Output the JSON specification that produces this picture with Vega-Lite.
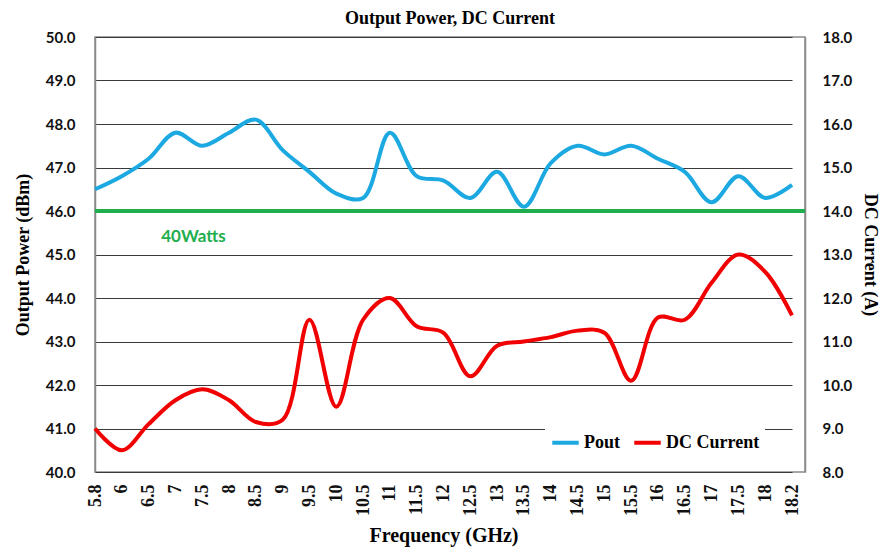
{
  "$schema": "https://vega.github.io/schema/vega-lite/v6.json",
  "autosize": {"type": "none"},
  "padding": {"left": 95, "top": 37, "right": 79, "bottom": 75},
  "width": 710,
  "height": 435,
  "background": "white",
  "title": {"text": "Output Power, DC Current", "font": "Liberation Serif", "fontSize": 18, "fontWeight": "bold", "color": "#000", "anchor": "middle", "offset": 2},
  "config": {
    "view": {"stroke": "#8a8a8a", "strokeWidth": 1.5},
    "axis": {"labelFont": "Lato", "labelFontWeight": "bold", "labelFontSize": 15, "labelColor": "#111", "titleFont": "Liberation Serif", "titleFontWeight": "bold", "titleFontSize": 20, "titleColor": "#000", "ticks": false}
  },
  "data": {"values": [
    {"freq": "5.8", "pout": 46.5, "dc": 9.0},
    {"freq": "6", "pout": 46.8, "dc": 8.5},
    {"freq": "6.5", "pout": 47.2, "dc": 9.1},
    {"freq": "7", "pout": 47.8, "dc": 9.65},
    {"freq": "7.5", "pout": 47.5, "dc": 9.9},
    {"freq": "8", "pout": 47.8, "dc": 9.65},
    {"freq": "8.5", "pout": 48.1, "dc": 9.15},
    {"freq": "9", "pout": 47.4, "dc": 9.2},
    {"freq": "9.5", "pout": 46.9, "dc": 11.5},
    {"freq": "10", "pout": 46.4, "dc": 9.5},
    {"freq": "10.5", "pout": 46.3, "dc": 11.5},
    {"freq": "11", "pout": 47.8, "dc": 12.0},
    {"freq": "11.5", "pout": 46.8, "dc": 11.35},
    {"freq": "12", "pout": 46.7, "dc": 11.2},
    {"freq": "12.5", "pout": 46.3, "dc": 10.2},
    {"freq": "13", "pout": 46.9, "dc": 10.9},
    {"freq": "13.5", "pout": 46.1, "dc": 11.0},
    {"freq": "14", "pout": 47.1, "dc": 11.1},
    {"freq": "14.5", "pout": 47.5, "dc": 11.25},
    {"freq": "15", "pout": 47.3, "dc": 11.2},
    {"freq": "15.5", "pout": 47.5, "dc": 10.1},
    {"freq": "16", "pout": 47.2, "dc": 11.55},
    {"freq": "16.5", "pout": 46.9, "dc": 11.5},
    {"freq": "17", "pout": 46.2, "dc": 12.35},
    {"freq": "17.5", "pout": 46.8, "dc": 13.0},
    {"freq": "18", "pout": 46.3, "dc": 12.6},
    {"freq": "18.2", "pout": 46.6, "dc": 11.6}
  ]},
  "encoding": {
    "x": {"field": "freq", "type": "ordinal", "sort": null,
      "scale": {"type": "point", "range": [0, 697], "padding": 0},
      "axis": {"title": "Frequency (GHz)", "labelAngle": -90, "labelFont": "Liberation Serif", "labelFontSize": 18, "labelPadding": 12, "labelAlign": "right", "labelBaseline": "middle", "domain": false, "grid": false, "titlePadding": 10}}
  },
  "layer": [
    {
      "layer": [
        {
          "mark": {"type": "line", "strokeWidth": 4, "interpolate": "catmull-rom"},
          "encoding": {
            "y": {"field": "pout", "type": "quantitative", "scale": {"domain": [40, 50], "nice": false},
              "axis": {"title": "Output Power (dBm)", "titleFontSize": 18, "orient": "left", "values": [40,41,42,43,44,45,46,47,48,49,50], "format": ".1f", "labelPadding": 20, "grid": true, "gridColor": "#3a3a3a", "gridWidth": 1, "domainColor": "#8a8a8a", "domainWidth": 1.5, "titlePadding": 13}},
            "color": {"datum": "Pout", "type": "nominal",
              "scale": {"domain": ["Pout", "DC Current"], "range": ["#1ca9e1", "#f00000"]},
              "legend": {"title": null, "orient": "none", "legendX": 450, "legendY": 385, "direction": "horizontal", "symbolType": "stroke", "symbolStrokeWidth": 4, "symbolSize": 700, "labelFont": "Liberation Serif", "labelFontWeight": "bold", "labelFontSize": 18, "labelColor": "#000", "fillColor": "white", "padding": 5, "columnPadding": 6, "labelOffset": 3}}
          }
        },
        {
          "data": {"values": [{"level": 46}]},
          "mark": {"type": "rule", "color": "#1eae4e", "strokeWidth": 4},
          "encoding": {"x": null, "y": {"field": "level", "type": "quantitative"}}
        },
        {
          "data": {"values": [{"label": "40Watts", "freq": "7", "level": 45.4}]},
          "mark": {"type": "text", "font": "Lato", "fontWeight": "bold", "fontSize": 17, "color": "#1eae4e", "align": "center", "dx": 18},
          "encoding": {"text": {"field": "label"}, "y": {"field": "level", "type": "quantitative"}}
        }
      ]
    },
    {
      "mark": {"type": "line", "strokeWidth": 4, "interpolate": "catmull-rom"},
      "encoding": {
        "y": {"field": "dc", "type": "quantitative", "scale": {"domain": [8, 18], "nice": false},
          "axis": {"title": "DC Current (A)", "titleFontSize": 18, "orient": "right", "values": [8,9,10,11,12,13,14,15,16,17,18], "format": ".1f", "labelPadding": 17, "grid": false, "domainColor": "#8a8a8a", "domainWidth": 1.5, "titlePadding": 9}},
        "color": {"datum": "DC Current", "type": "nominal"}
      }
    }
  ],
  "resolve": {"scale": {"y": "independent"}}
}
